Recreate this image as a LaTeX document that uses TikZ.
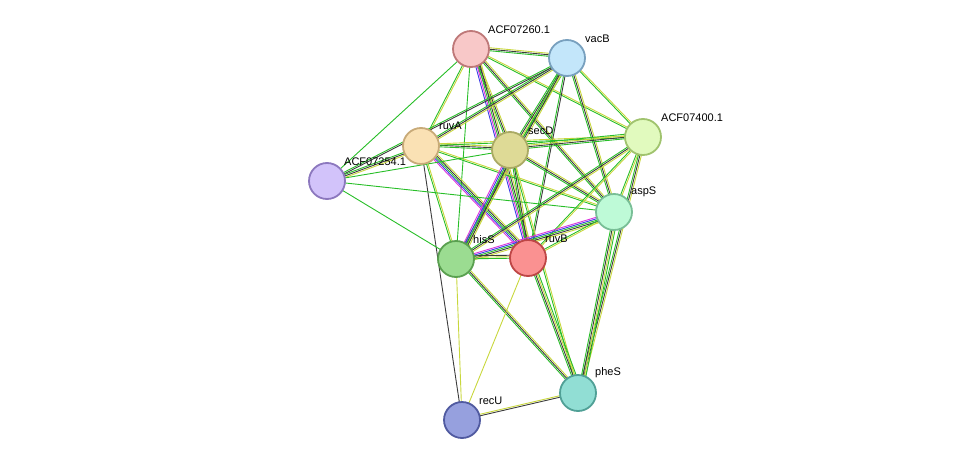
\documentclass[tikz,border=0pt]{standalone}
\usepackage{fontspec}
\setmainfont{Liberation Sans}
\usetikzlibrary{calc}
\begin{document}
\begin{tikzpicture}[x=1pt,y=-1pt,
  prot/.style={circle,minimum size=36pt,inner sep=0pt,line width=1.8pt},
  lab/.style={font=\fontsize{11}{12}\selectfont,anchor=south west,inner sep=1pt}]
\useasboundingbox (0,0) rectangle (975,466);
\coordinate (A) at (471,49);
\coordinate (V) at (567,58);
\coordinate (RA) at (421,146);
\coordinate (S) at (510,150);
\coordinate (F) at (643,137);
\coordinate (K) at (327,181);
\coordinate (AS) at (614,212);
\coordinate (H) at (456,259);
\coordinate (RB) at (528,258);
\coordinate (P) at (578,393);
\coordinate (RU) at (462,420);
\definecolor{cg}{RGB}{40,190,40}
\definecolor{cy}{RGB}{200,215,60}
\definecolor{ck}{RGB}{60,60,60}
\definecolor{cm}{RGB}{220,50,220}
\definecolor{cb}{RGB}{60,60,230}
\newcommand\edg[3]{%
  \foreach \c [count=\i] in {#3}{%
    \draw[draw=c\c,line width=0.9pt] ($(#1)!{(\i-1)*1.5pt}!90:(#2)$) -- ($(#2)!{(\i-1)*1.5pt}!-90:(#1)$);}}
\edg{A}{V}{g,k,y}
\edg{A}{RA}{g,y}
\edg{A}{S}{g,k,y}
\edg{A}{K}{g}
\edg{A}{F}{g,y}
\edg{A}{AS}{g,k,y}
\edg{A}{H}{g}
\edg{A}{RB}{b,m,g,k,y}
\edg{V}{RA}{g,k,y}
\edg{V}{S}{g,k,y,g}
\edg{V}{K}{g,k}
\edg{V}{AS}{g,k,y}
\edg{V}{H}{g,k,y}
\edg{V}{RB}{g,k}
\edg{V}{F}{g,y}
\edg{RA}{S}{g,k,y}
\edg{RA}{K}{g,k,y}
\edg{RA}{F}{g,y}
\edg{RA}{AS}{g,y}
\edg{RA}{H}{g,y}
\edg{RA}{RB}{m,b,g,k,y}
\edg{RA}{RU}{k}
\edg{S}{F}{g,k,y,g}
\edg{S}{K}{g}
\edg{S}{AS}{g,k,y}
\edg{S}{H}{m,b,g,k,y}
\edg{S}{RB}{g,k,y}
\edg{S}{P}{g,y}
\edg{F}{AS}{g,y}
\edg{F}{H}{g,k,y}
\edg{F}{RB}{g,y}
\edg{F}{P}{g,k,y}
\edg{K}{AS}{g}
\edg{K}{H}{g}
\edg{AS}{H}{m,b,g,k,y}
\edg{AS}{RB}{g,y}
\edg{AS}{P}{g,k,y,g}
\edg{H}{RB}{g,y,k}
\edg{H}{P}{g,k,y}
\edg{H}{RU}{y}
\edg{RB}{P}{g,k,y,g}
\edg{RB}{RU}{y}
\edg{RU}{P}{k,y}
\node[prot,draw={rgb,255:red,190;green,120;blue,120},fill={rgb,255:red,248;green,200;blue,200}] (nA) at (A) {};
\node[prot,draw={rgb,255:red,120;green,160;blue,190},fill={rgb,255:red,195;green,230;blue,250}] (nV) at (V) {};
\node[prot,draw={rgb,255:red,200;green,170;blue,120},fill={rgb,255:red,250;green,225;blue,180}] (nRA) at (RA) {};
\node[prot,draw={rgb,255:red,170;green,170;blue,100},fill={rgb,255:red,222;green,218;blue,150}] (nS) at (S) {};
\node[prot,draw={rgb,255:red,160;green,195;blue,110},fill={rgb,255:red,225;green,250;blue,190}] (nF) at (F) {};
\node[prot,draw={rgb,255:red,140;green,120;blue,190},fill={rgb,255:red,210;green,195;blue,250}] (nK) at (K) {};
\node[prot,draw={rgb,255:red,120;green,190;blue,150},fill={rgb,255:red,190;green,250;blue,215}] (nAS) at (AS) {};
\node[prot,draw={rgb,255:red,90;green,160;blue,80},fill={rgb,255:red,155;green,220;blue,145}] (nH) at (H) {};
\node[prot,draw={rgb,255:red,190;green,70;blue,70},fill={rgb,255:red,250;green,145;blue,145}] (nRB) at (RB) {};
\node[prot,draw={rgb,255:red,80;green,160;blue,150},fill={rgb,255:red,145;green,222;blue,212}] (nP) at (P) {};
\node[prot,draw={rgb,255:red,80;green,90;blue,160},fill={rgb,255:red,150;green,160;blue,222}] (nRU) at (RU) {};
\node[lab] (lA) at (487,35) {ACF07260.1};
\node[lab] (lV) at (584,44) {vacB};
\node[lab] (lRA) at (438,131) {ruvA};
\node[lab] (lS) at (527,136) {secD};
\node[lab] (lF) at (660,123) {ACF07400.1};
\node[lab] (lK) at (343,167) {ACF07254.1};
\node[lab] (lAS) at (630,198) {aspS};
\node[lab] (lH) at (472,245) {hisS};
\node[lab] (lRB) at (544,244) {ruvB};
\node[lab] (lP) at (594,379) {pheS};
\node[lab] (lRU) at (478,406) {recU};
\end{tikzpicture}
\end{document}
